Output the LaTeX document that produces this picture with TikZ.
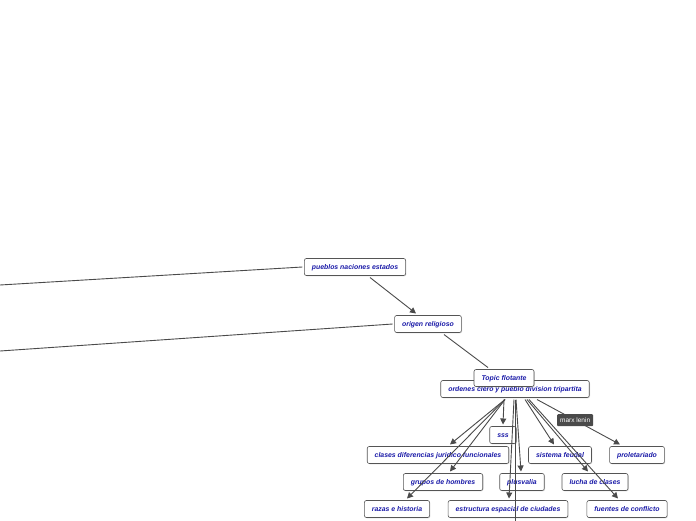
\documentclass[tikz,border=0pt]{standalone}
\usepackage{fontspec}
\setmainfont{Liberation Sans}
\usepackage{xcolor}
\usetikzlibrary{arrows.meta,shadows}
\definecolor{topicblue}{HTML}{1A1AA8}
\definecolor{edgegray}{HTML}{4A4A4A}
\definecolor{boxgray}{HTML}{555555}

\begin{document}
\begin{tikzpicture}[x=1pt,y=-1pt, topic/.style={draw=boxgray,line width=0.6pt,fill=white,rounded corners=2pt,minimum height=17pt,inner xsep=7.5pt,inner ysep=0pt,text height=6pt,text depth=1pt,outer sep=2pt,text=topicblue,font=\fontsize{6.9}{8}\selectfont\bfseries\itshape,drop shadow={opacity=0.25,shadow xshift=0.8pt,shadow yshift=-0.8pt}}, tag/.style={fill=edgegray,rounded corners=1pt,minimum height=12pt,inner xsep=3pt,inner ysep=0pt,text=white,font=\fontsize{6.5}{7}\selectfont}, arrow/.style={-{Triangle[length=6pt,width=6pt]},edgegray,line width=0.9pt}, link/.style={edgegray,line width=0.9pt}]
\useasboundingbox (0,0) rectangle (696,520);
\node[topic] (pueblos) at (355,267) {pueblos naciones estados};
\node[topic] (origen) at (428,324) {origen religioso};
\node[topic] (ordenes) at (515,389) {ordenes clero y pueblo division tripartita};
\node[topic] (flotante) at (504,378) {Topic flotante};
\node[topic] (sss) at (503,435) {sss};
\node[topic] (clases) at (438,455) {clases diferencias juridico funcionales};
\node[topic] (feudal) at (560,455) {sistema feudal};
\node[topic] (proletariado) at (637,455) {proletariado};
\node[topic] (grupos) at (443,482) {grupos de hombres};
\node[topic] (plusvalia) at (522,482) {plusvalia};
\node[topic] (lucha) at (595,482) {lucha de clases};
\node[topic] (razas) at (397,509) {razas e historia};
\node[topic] (estructura) at (508,509) {estructura espacial de ciudades};
\node[topic] (fuentes) at (627,509) {fuentes de conflicto};
\coordinate (leftA) at (0,285);
\coordinate (leftB) at (0,351);
\coordinate (below) at (515,522);
% links leaving the picture
\draw[link] (pueblos.west) -- (leftA);
\draw[link] (origen.west) -- (leftB);
\draw[link] ([xshift=0pt]ordenes.south) -- (below);
% main chain
\draw[arrow] ([xshift=15pt]pueblos.south) -- ([xshift=-12pt]origen.north);
\draw[link] ([xshift=16pt]origen.south) -- ([xshift=-16pt]flotante.north);
% children of ordenes
\draw[arrow] ([xshift=-11pt]ordenes.south) -- (sss.north);
\draw[arrow] ([xshift=-10pt]ordenes.south) -- ([xshift=12pt]clases.north);
\draw[arrow] ([xshift=-10pt]ordenes.south) -- ([xshift=7pt]grupos.north);
\draw[arrow] ([xshift=-10pt]ordenes.south) -- ([xshift=10pt]razas.north);
\draw[arrow] ([xshift=-1pt]ordenes.south) -- ([xshift=1pt]estructura.north);
\draw[arrow] ([xshift=1pt]ordenes.south) -- ([xshift=-1pt]plusvalia.north);
\draw[arrow] ([xshift=10pt]ordenes.south) -- ([xshift=-6pt]feudal.north);
\draw[arrow] ([xshift=12pt]ordenes.south) -- ([xshift=-7pt]lucha.north);
\draw[arrow] ([xshift=14pt]ordenes.south) -- ([xshift=-9pt]fuentes.north);
\draw[arrow] ([xshift=22pt]ordenes.south) -- node[tag,pos=0.46] (marx) {marx lenin} ([xshift=-17pt]proletariado.north);
\end{tikzpicture}
\end{document}
